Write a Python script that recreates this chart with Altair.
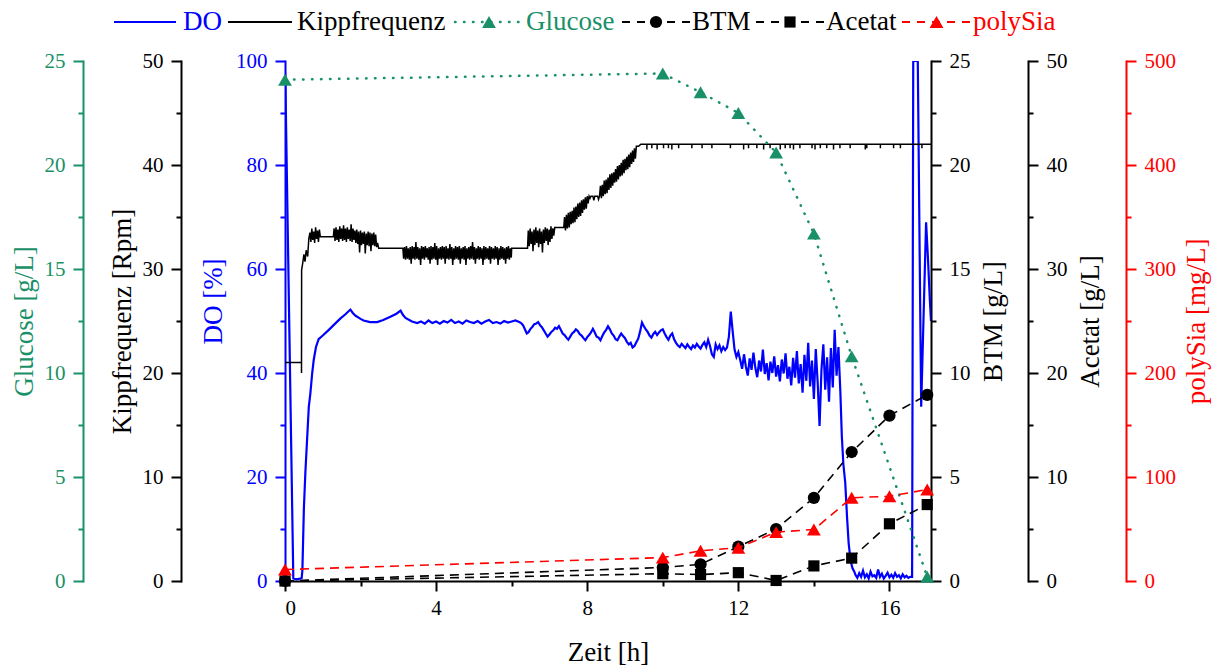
import altair as alt
import pandas as pd

# ------------------------------------------------------------------ data
# DO [%] -- start-up phase, read point by point
do_start_t = [0, 0.01, 0.12, 0.22, 0.30, 0.44, 0.46, 0.50, 0.54, 0.63, 0.67, 0.72, 0.76, 0.82, 0.89,
              1.00, 1.16, 1.30, 1.47, 1.60, 1.73, 1.80, 1.87, 2.00, 2.08, 2.25, 2.44, 2.60, 2.79, 2.95,
              3.06, 3.12, 3.19, 3.36, 3.50]
do_start_v = [98, 96, 46, 0.5, 0.3, 0.5, 2, 14, 21, 33.5, 36, 40, 42.5, 45, 46.5,
              47.2, 48.3, 49.3, 50.5, 51.3, 52.2, 51.5, 51, 50.4, 50.1, 49.8, 49.8, 50.2, 50.8, 51.4,
              52, 51.2, 50.6, 49.9, 49.6]
# DO -- evenly sampled stretches (first time [h], step [h], readings)
do_flat_t0, do_flat_dt = 3.6, 0.1
do_flat_v = [49.9, 49.5, 50.1, 49.6, 49.9, 49.5, 50.0, 49.7, 50.2, 49.6, 49.9, 49.5, 50.1, 49.8,
             49.6, 50.0, 49.5, 49.9, 50.2, 49.6, 49.8, 49.5, 50.0, 49.7, 49.9, 50.1, 49.8]
do_wave_t0, do_wave_dt = 6.25, 0.05
do_wave_v = [49.6, 49.2, 48.4, 47.6, 47.9, 48.5, 48.9, 49.4, 49.5, 49.8, 49.2, 48.8, 48.2, 47.6, 47.0,
             47.4, 47.9, 48.2, 48.7, 48.5, 49.0, 48.3, 47.6, 47.3, 46.8, 46.4, 47.0, 47.6, 47.9, 48.4,
             48.1, 47.5, 47.2, 46.7, 46.3, 46.9, 47.3, 47.8, 48.5, 47.8, 47.0, 46.8, 46.3, 47.1, 47.8,
             48.3, 49.0, 48.4, 47.6, 47.2, 46.5, 46.3, 47.0, 47.6, 47.1, 46.7, 46.0, 45.5, 45.8, 44.9,
             45.2, 45.9, 46.6, 48.0, 49.7, 49.0, 48.4, 47.9, 47.2, 46.8, 47.5, 47.9, 47.3, 47.8, 48.2,
             48.4, 47.6, 46.9, 46.4, 47.2, 47.6, 46.5, 45.8, 45.3, 45.0, 45.6]
do_mid_t0, do_mid_dt = 10.55, 0.05
do_mid_v = [45.2, 44.8, 45.5, 45.0, 44.6, 45.3, 44.9, 45.6, 45.1, 44.7, 45.4, 45.9, 45.0, 46.4, 45.2,
            43.6, 43.1, 45.5, 44.6, 45.3, 44.2, 45.0, 44.4, 44.9, 47.0, 51.8, 48.0, 44.5, 43.1, 44.0]
do_noisy_t0, do_noisy_dt = 12.05, 0.05
do_noisy_v = [42.5, 40.8, 43.6, 41.2, 39.5, 42.8, 40.6, 43.9, 41.0, 39.2, 42.4, 40.3, 44.5, 39.8, 41.9,
              38.6, 42.2, 40.0, 43.2, 39.3, 41.5, 38.4, 42.6, 39.9, 43.8, 38.9, 41.2, 37.6, 42.9, 39.1,
              44.2, 38.0, 41.7, 36.2, 43.5, 38.5, 45.8, 37.4, 42.4, 35.0, 44.6, 38.2, 29.8, 40.6, 45.5,
              36.8, 43.0, 34.5, 44.8, 37.2, 48.3, 39.5, 45.0, 36.5]
do_drop_t = [14.74, 14.78, 14.83, 14.88, 14.92, 14.97, 15.02, 15.07]
do_drop_v = [27.8, 22.5, 18.9, 12.0, 7.3, 4.0, 2.5, 1.8]
do_low_t0, do_low_dt = 15.1, 0.05
do_low_v = [1.2, 0.6, 1.5, 0.8, 2.0, 0.7, 1.3, 0.5, 1.8, 0.9, 1.1, 0.6, 2.2, 0.8, 1.4,
            0.5, 1.0, 1.6, 0.7, 1.2, 0.6, 1.5, 0.8, 1.1, 0.5, 1.3, 0.7, 1.0, 0.6, 0.8]
do_end_t = [16.60, 16.63, 16.75, 16.84, 16.90, 16.97, 17.02, 17.07, 17.10]
do_end_v = [0.8, 100, 100, 33.5, 50, 69, 62, 54, 50]

# Kippfrequenz [Rpm]
kipp_start_t = [0, 0.437, 0.437, 0.44, 0.47, 0.50, 0.53, 0.56, 0.60, 0.63]
kipp_start_v = [21, 21, 20, 29.9, 30.6, 31.4, 30.7, 31.8, 31.2, 32.9]
kipp_b1_t0, kipp_b1_dt = 0.66, 0.025
kipp_b1_v = [33.5, 32.6, 33.9, 32.8, 33.6, 32.5, 34.0, 32.9, 33.7, 32.6, 33.8, 33.1]
kipp_f1_t, kipp_f1_v = [0.95, 1.28], [33.1, 33.1]
kipp_b2_t0, kipp_b2_dt = 1.30, 0.025
kipp_b2_v = [33.9, 32.7, 34.0, 32.8, 33.8, 32.6, 34.1, 32.9, 33.9, 32.7, 34.2, 32.8, 33.9, 32.6, 34.0,
             32.9, 33.8, 32.7, 34.3, 32.6, 33.9, 32.8, 33.7, 32.5, 33.8, 32.4, 33.6, 31.6, 33.7, 32.3,
             33.5, 32.4, 33.6, 31.5, 33.4, 32.3, 33.6, 32.2, 33.5, 31.7, 33.4, 32.3, 33.5, 32.2, 33.3,
             32.1, 32.5]
kipp_f2_t, kipp_f2_v = [2.48, 3.12], [32.0, 32.0]
kipp_b3_t0, kipp_b3_dt = 3.14, 0.025
kipp_b3_v = [31.0, 32.1, 30.9, 32.2, 31.0, 32.0, 30.9, 32.1, 30.5, 32.2,
             31.0, 32.1, 30.9, 32.6, 31.0, 32.1, 30.9, 32.0, 30.4, 32.2,
             31.0, 32.1, 30.9, 32.2, 31.1, 32.0, 30.9, 32.1, 30.5, 32.2,
             30.9, 32.1, 31.0, 32.5, 30.9, 32.2, 30.4, 32.0, 31.0, 32.1,
             30.9, 32.2, 31.0, 32.1, 30.5, 32.2, 31.0, 32.0, 30.9, 32.4,
             31.0, 32.1, 30.4, 32.0, 30.9, 32.2, 31.0, 32.1, 30.9, 32.2,
             30.5, 32.0, 31.0, 32.1, 30.9, 32.2, 30.4, 32.0, 31.0, 32.1,
             30.9, 32.2, 31.0, 32.6, 30.9, 32.1, 30.5, 32.0, 31.0, 32.2,
             30.9, 32.1, 31.0, 32.0, 30.4, 32.2, 30.9, 32.1, 31.0, 32.0,
             30.9, 32.2, 30.5, 32.1, 31.0, 32.0, 30.9, 32.2, 31.0, 32.1,
             30.4, 32.0, 30.9, 32.2, 31.0, 32.1, 30.9, 32.0, 30.5, 32.1,
             31.0, 32.2, 30.9, 32.0, 31.1]
kipp_f3_t, kipp_f3_v = [6.0, 6.42], [32.0, 32.0]
kipp_b4_t0, kipp_b4_dt = 6.44, 0.025
kipp_b4_v = [33.7, 32.2, 33.9, 32.4, 33.6, 31.7, 33.8, 32.3, 34.0, 32.5, 33.7, 32.1, 33.9, 32.4, 33.6,
             31.6, 33.8, 32.5, 34.0, 32.7, 33.9, 32.3, 33.8, 32.6, 34.1, 32.9, 33.9, 33.2, 34.0]
kipp_f4_t, kipp_f4_v = [7.18, 7.38], [34.0, 34.0]
kipp_b5_t0, kipp_b5_dt = 7.40, 0.025
kipp_b5_v = [35.0, 33.7, 35.2, 33.9, 35.4, 34.0, 35.5, 34.3, 35.6, 34.4, 35.9, 34.5, 36.0, 34.8, 36.3,
             35.0, 36.4, 35.1, 36.6, 35.4, 36.7, 35.7, 36.9, 35.8,
             37.0, 36.3, 37.0, 36.8, 37.0, 37.0, 37.0, 36.6, 37.0, 37.0, 37.0, 37.0, 36.7, 37.0,
             38.0, 36.8, 38.1, 37.0, 38.5, 37.2, 38.6, 37.3, 38.8, 37.6, 39.1, 37.8, 39.2, 38.0, 39.3,
             38.3, 39.6, 38.4, 39.9, 38.6, 40.0, 38.9, 40.2, 39.0, 40.5, 39.2, 40.6, 39.5, 40.8, 39.6,
             41.0, 39.8, 41.2, 40.1, 41.4, 40.3, 41.6, 40.6, 41.8]
kipp_top_t, kipp_top_v = [9.36, 9.42], [41.8, 42.0]
kipp_plateau = 42.0
kipp_spike_t = [9.58, 9.71, 9.85, 10.02, 10.15, 10.24, 10.42, 10.77, 11.04, 11.30, 11.79, 12.14,
                12.27, 12.49, 12.67, 12.84, 13.11, 13.24, 13.37, 13.46, 13.63, 13.95, 14.03, 14.17,
                14.34, 14.52, 14.69, 14.96, 15.36, 15.40, 15.76, 16.11, 16.29, 16.86]
kipp_spike_v = [41.5, 41.6, 41.5, 41.6, 41.6, 41.5, 41.6, 41.6, 41.6, 41.6, 41.6, 41.5,
                41.6, 41.6, 41.5, 41.6, 41.5, 41.6, 41.6, 41.5, 41.6, 41.6, 41.5, 41.6,
                41.6, 41.5, 41.6, 41.6, 41.5, 41.6, 41.6, 41.6, 41.6, 41.6]
kipp_end_t = 17.1

# off-line samples
glucose_t = [0, 10, 11, 12, 13, 14, 15, 17]
glucose_v = [24.1, 24.4, 23.5, 22.5, 20.6, 16.7, 10.8, 0.2]          # g/L
sample_t = [0, 10, 11, 12, 13, 14, 15, 16, 17]
btm_v = [0, 0.65, 0.8, 1.65, 2.5, 4.0, 6.2, 7.95, 8.95]               # g/L
acetat_v = [0, 0.7, 0.62, 0.8, 0.05, 1.45, 2.2, 5.5, 7.35]            # g/L
polysia_v = [11, 22.5, 29, 32, 47, 49.5, 80, 81.5, 88]                # mg/L

legend_labels = ["DO", "Kippfrequenz", "Glucose", "BTM", "Acetat", "polySia"]


# ------------------------------------------------------------------ helpers
def grid(t0, dt, vals):
    return [round(t0 + k * dt, 4) for k in range(len(vals))], list(vals)


def join(*parts):
    ts, vs = [], []
    for t, v in parts:
        ts += list(t)
        vs += list(v)
    return pd.DataFrame({"t": ts, "v": vs, "i": range(len(ts))})


do_df = join((do_start_t, do_start_v), grid(do_flat_t0, do_flat_dt, do_flat_v),
             grid(do_wave_t0, do_wave_dt, do_wave_v), grid(do_mid_t0, do_mid_dt, do_mid_v),
             grid(do_noisy_t0, do_noisy_dt, do_noisy_v), (do_drop_t, do_drop_v),
             grid(do_low_t0, do_low_dt, do_low_v), (do_end_t, do_end_v))

sp_t, sp_v = [], []
for s, d in zip(kipp_spike_t, kipp_spike_v):
    sp_t += [s, s, s]
    sp_v += [kipp_plateau, d, kipp_plateau]
kipp_df = join((kipp_start_t, kipp_start_v), grid(kipp_b1_t0, kipp_b1_dt, kipp_b1_v),
               (kipp_f1_t, kipp_f1_v), grid(kipp_b2_t0, kipp_b2_dt, kipp_b2_v),
               (kipp_f2_t, kipp_f2_v), grid(kipp_b3_t0, kipp_b3_dt, kipp_b3_v),
               (kipp_f3_t, kipp_f3_v), grid(kipp_b4_t0, kipp_b4_dt, kipp_b4_v),
               (kipp_f4_t, kipp_f4_v), grid(kipp_b5_t0, kipp_b5_dt, kipp_b5_v),
               (kipp_top_t, kipp_top_v), (sp_t, sp_v), ([kipp_end_t], [kipp_plateau]))

glc_df = pd.DataFrame({"t": glucose_t, "v": glucose_v})
btm_df = pd.DataFrame({"t": sample_t, "v": btm_v})
ace_df = pd.DataFrame({"t": sample_t, "v": acetat_v})
psa_df = pd.DataFrame({"t": sample_t, "v": polysia_v})

# ------------------------------------------------------------------ style
FONT = "Liberation Serif"
BLUE, GREEN, RED, BLACK = "#0000ff", "#1a9068", "#ff0000", "#000000"
W, H = 646, 520
LABEL_FS, TITLE_FS = 21, 27


def axis(title, color, orient, offset, top, step, major, tpad, angle=None, baseline=None, title_y=None):
    vals = [round(k * step, 4) for k in range(int(round(top / step)) + 1)]
    test = f"datum.value % {major} === 0"
    kw = dict(orient=orient, offset=offset, values=vals, title=title,
              labelExpr=f"{test} ? datum.label : ''", labelOverlap=False,
              tickSize={"condition": {"test": test, "value": 10}, "value": 5},
              tickWidth=2, domainWidth=2, domainColor=color, tickColor=color,
              labelColor=color, titleColor=color, labelFont=FONT, titleFont=FONT,
              labelFontSize=LABEL_FS, titleFontSize=TITLE_FS, titleFontWeight="normal",
              labelPadding=8, titlePadding=tpad, grid=False, domainCap="square")
    if angle is not None:
        kw["titleAngle"] = angle
    if baseline is not None:
        kw["titleBaseline"] = baseline
    if title_y is not None:
        kw["titleY"] = title_y
    return alt.Axis(**kw)


x_axis = alt.Axis(values=[0, 2, 4, 6, 8, 10, 12, 14, 16], title="Zeit [h]",
                  labelExpr="datum.value % 4 === 0 ? datum.label : ''", labelOverlap=False,
                  tickSize={"condition": {"test": "datum.value % 4 === 0", "value": 10}, "value": 5},
                  tickWidth=2, domainWidth=2, domainColor=BLACK, tickColor=BLACK,
                  labelColor=BLACK, titleColor=BLACK, labelFont=FONT, titleFont=FONT,
                  labelFontSize=LABEL_FS, titleFontSize=TITLE_FS, titleFontWeight="normal",
                  labelPadding=6, titlePadding=21, grid=False)
X = alt.X("t:Q", scale=alt.Scale(domain=[0, 17.1], nice=False, zero=False), axis=x_axis)


def yenc(top, ax):
    return alt.Y("v:Q", scale=alt.Scale(domain=[0, top], nice=False, zero=True), axis=ax)


do_layer = alt.Chart(do_df).mark_line(color=BLUE, strokeWidth=2.2, clip=True).encode(
    x=X, y=yenc(100, axis("DO [%]", BLUE, "left", 0, 100, 10, 20, 8, title_y=240)), order="i:Q")

kipp_layer = alt.Chart(kipp_df).mark_line(color=BLACK, strokeWidth=1.5).encode(
    x=X, y=yenc(50, axis("Kippfrequenz [Rpm]", BLACK, "left", 104, 50, 5, 10, 6)), order="i:Q")

glc_layer = alt.Chart(glc_df).mark_line(
    color=GREEN, strokeWidth=2.5, strokeDash=[0.5, 8.5], strokeCap="round",
    point=alt.OverlayMarkDef(shape="triangle-up", filled=True, size=190, color=GREEN, opacity=1)
).encode(x=X, y=yenc(25, axis("Glucose [g/L]", GREEN, "left", 202, 25, 2.5, 5, 6)))

btm_layer = alt.Chart(btm_df).mark_line(
    color=BLACK, strokeWidth=1.6, strokeDash=[9, 6],
    point=alt.OverlayMarkDef(shape="circle", filled=True, size=150, color=BLACK, opacity=1)
).encode(x=X, y=yenc(25, axis("BTM [g/L]", BLACK, "right", 0, 25, 2.5, 5, 10, angle=270, baseline="top")))

ace_layer = alt.Chart(ace_df).mark_line(
    color=BLACK, strokeWidth=1.6, strokeDash=[9, 6],
    point=alt.OverlayMarkDef(shape="square", filled=True, size=125, color=BLACK, opacity=1)
).encode(x=X, y=yenc(50, axis("Acetat [g/L]", BLACK, "right", 97, 50, 5, 10, 10, angle=270, baseline="top")))

psa_layer = alt.Chart(psa_df).mark_line(
    color=RED, strokeWidth=1.6, strokeDash=[9, 6],
    point=alt.OverlayMarkDef(shape="triangle-up", filled=True, size=190, color=RED, opacity=1)
).encode(x=X, y=yenc(500, axis("polySia [mg/L]", RED, "right", 195, 500, 50, 100, 8, angle=270, baseline="top")))

# ------------------------------------------------------------------ legend (drawn above the plot)
one = pd.DataFrame({"k": [0]})
LEG_Y = -39
leg_specs = [
    # label, colour, dash, shape, line from, line to, text x
    (legend_labels[0], BLUE, None, None, -171, -109, -102),
    (legend_labels[1], BLACK, None, None, -57, 7, 12),
    (legend_labels[2], GREEN, [0.5, 8.5], "triangle-up", 170, 238, 241),
    (legend_labels[3], BLACK, [8, 7], "circle", 337, 405, 407),
    (legend_labels[4], BLACK, [8, 7], "square", 471, 539, 541),
    (legend_labels[5], RED, [8, 7], "triangle-up", 617, 686, 688),
]
legend_layers = []
for lab, col, dash, shape, x1, x2, tx in leg_specs:
    rule_kw = dict(color=col, strokeWidth=1.8)
    if dash is not None:
        rule_kw["strokeDash"] = dash
        if dash[0] < 1:
            rule_kw["strokeCap"] = "round"
            rule_kw["strokeWidth"] = 2.5
    legend_layers.append(alt.Chart(one).mark_rule(**rule_kw).encode(
        x=alt.value(x1), x2=alt.value(x2), y=alt.value(LEG_Y)))
    if shape is not None:
        size = {"triangle-up": 190, "circle": 150, "square": 125}[shape]
        legend_layers.append(alt.Chart(one).mark_point(
            shape=shape, filled=True, size=size, color=col, opacity=1).encode(
            x=alt.value((x1 + x2) / 2), y=alt.value(LEG_Y)))
    legend_layers.append(alt.Chart(one).mark_text(
        text=lab, align="left", baseline="middle", font=FONT, fontSize=TITLE_FS, color=col).encode(
        x=alt.value(tx), y=alt.value(LEG_Y)))

chart = alt.layer(
    do_layer, kipp_layer, glc_layer, btm_layer, ace_layer, psa_layer, *legend_layers
).resolve_scale(y="independent").properties(
    width=W, height=H,
    padding={"left": 285, "top": 61, "right": 1218 - 285 - W, "bottom": 666 - 61 - H},
    autosize=alt.AutoSizeParams(type="none"),
    background="white",
).configure_view(stroke=None)

chart.save("out.html", embed_options={"renderer": "svg", "actions": False})
